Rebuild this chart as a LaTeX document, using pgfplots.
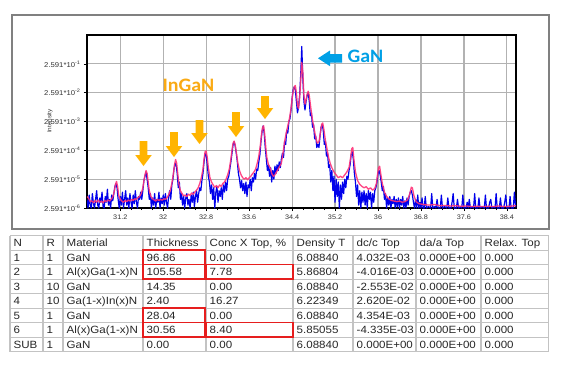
\documentclass[border=0pt]{standalone}
\usepackage{pgfplots}
\pgfplotsset{compat=1.18}
\usepackage{fontspec}
\setmainfont{Liberation Sans}[FakeStretch=1.1]
\newfontfamily\calib{Carlito}[FakeStretch=1.05]
\definecolor{ablue}{RGB}{0,0,235}
\definecolor{apink}{RGB}{255,50,120}
\definecolor{aorange}{RGB}{255,180,0}
\definecolor{torange}{RGB}{250,170,20}
\definecolor{gblue}{RGB}{0,160,230}
\definecolor{tgrid}{RGB}{195,195,195}
\definecolor{rbox}{RGB}{230,30,30}
\newcommand\darrow[3]{\fill[aorange] (#1-3.8,368-#2) -- (#1+3.8,368-#2) -- (#1+3.8,368-#3+11) -- (#1+8.3,368-#3+11) -- (#1,368-#3) -- (#1-8.3,368-#3+11) -- (#1-3.8,368-#3+11) -- cycle;}
\newcommand\trow[9]{%
\node[cell] at (13.5,\ry) {#1};\node[cell] at (46.5,\ry) {#2};\node[cell] at (66.5,\ry) {#3};%
\node[cell] at (146.5,\ry) {#4};\node[cell] at (209.5,\ry) {#5};\node[cell] at (296.5,\ry) {#6};%
\node[cell] at (356.5,\ry) {#7};\node[cell] at (419.5,\ry) {#8};\node[cell] at (484.5,\ry) {#9};}
\begin{document}
\begin{tikzpicture}[x=1pt,y=1pt,cell/.style={anchor=base west,inner sep=0pt,text=black!85,font=\fontsize{10.5}{12}\selectfont}]
\path[fill=white] (0,0) rectangle (566,368);
\draw[color=gray, line width=1.2pt] (12,353) rectangle (549,139);
\begin{axis}[at={(87pt,160pt)}, anchor=south west, scale only axis, width=429pt, height=173pt,
  xmin=30.58, xmax=38.57, ymin=0, ymax=6,
  xtick={31.2,32.0,32.8,33.6,34.4,35.2,36.0,36.8,37.6,38.4},
  xticklabels={31.2,32,32.8,33.6,34.4,35.2,36,36.8,37.6,38.4},
  minor x tick num=3,
  ytick={0,1,2,3,4,5},
  yticklabels={2.591*10\textsuperscript{-6},2.591*10\textsuperscript{-5},2.591*10\textsuperscript{-4},2.591*10\textsuperscript{-3},2.591*10\textsuperscript{-2},2.591*10\textsuperscript{-1}},
  xtick pos=bottom, ytick pos=left, tick align=outside,
  major tick length=3pt, minor tick length=2pt,
  tick style={black, line width=0.6pt},
  xmajorgrids, ymajorgrids,
  grid style={color=black!30, line width=1.2pt, solid},
  xticklabel style={font=\fontsize{6.6}{7}\selectfont, text=black!80},
  yticklabel style={font=\fontsize{7}{8}\selectfont, text=black!80},
  axis line style={black, line width=1.1pt}]
\addplot[ablue, line width=1.2pt, line join=round] coordinates {
(30.58,0.30)(30.60,0.00)(30.62,0.45)(30.64,0.10)(30.66,0.00)(30.68,0.50)(30.70,0.15)(30.72,0.00)(30.74,0.30)(30.76,0.60)(30.78,0.10)(30.80,0.00)(30.82,0.35)(30.84,0.20)(30.86,0.55)(30.88,0.05)(30.90,0.00)(30.92,0.40)(30.94,0.20)(30.96,0.65)(30.98,0.10)(31.00,0.30)(31.02,0.00)(31.04,0.45)(31.06,0.25)(31.08,0.50)(31.10,0.75)(31.12,0.85)(31.14,0.70)(31.16,0.30)(31.18,0.00)(31.20,0.40)(31.22,0.10)(31.24,0.55)(31.26,0.00)(31.28,0.30)(31.30,0.60)(31.32,0.10)(31.34,0.35)(31.36,0.00)(31.38,0.50)(31.40,0.20)(31.42,0.00)(31.44,0.45)(31.46,0.15)(31.48,0.60)(31.50,0.20)(31.52,0.00)(31.54,0.40)(31.56,0.30)(31.58,0.55)(31.60,0.30)(31.62,0.60)(31.64,0.95)(31.66,1.10)(31.68,1.25)(31.70,1.00)(31.72,0.70)(31.74,0.30)(31.76,0.50)(31.78,0.00)(31.80,0.35)(31.82,0.10)(31.84,0.50)(31.86,0.00)(31.88,0.30)(31.90,0.20)(31.92,0.55)(31.94,0.00)(31.96,0.35)(31.98,0.15)(32.00,0.45)(32.02,0.10)(32.04,0.50)(32.06,0.20)(32.08,0.00)(32.10,0.40)(32.12,0.60)(32.14,0.30)(32.16,0.80)(32.18,1.00)(32.20,1.35)(32.22,1.55)(32.24,1.50)(32.26,1.20)(32.28,0.70)(32.30,0.90)(32.32,0.30)(32.34,0.50)(32.36,0.10)(32.38,0.40)(32.40,0.00)(32.42,0.35)(32.44,0.50)(32.46,0.10)(32.48,0.30)(32.50,0.00)(32.52,0.45)(32.54,0.20)(32.56,0.55)(32.58,0.05)(32.60,0.40)(32.62,0.60)(32.64,0.20)(32.66,0.50)(32.68,0.70)(32.70,0.60)(32.72,0.95)(32.74,1.20)(32.76,1.60)(32.78,1.90)(32.80,1.85)(32.82,1.50)(32.84,1.10)(32.86,0.90)(32.88,0.50)(32.90,0.80)(32.92,0.30)(32.94,0.70)(32.96,0.00)(32.98,0.55)(33.00,0.75)(33.02,0.20)(33.04,0.60)(33.06,0.40)(33.08,0.70)(33.10,0.30)(33.12,0.80)(33.14,0.55)(33.16,0.90)(33.18,0.60)(33.20,1.00)(33.22,1.10)(33.24,1.35)(33.26,1.60)(33.28,1.90)(33.30,2.20)(33.32,2.30)(33.34,2.15)(33.36,1.90)(33.38,1.60)(33.40,1.20)(33.42,1.00)(33.44,0.70)(33.46,0.95)(33.48,0.60)(33.50,0.85)(33.52,0.50)(33.54,0.90)(33.56,0.40)(33.58,0.80)(33.60,0.70)(33.62,1.00)(33.64,0.60)(33.66,1.05)(33.68,0.90)(33.70,1.20)(33.72,1.00)(33.74,1.35)(33.76,1.30)(33.78,1.60)(33.80,1.85)(33.82,2.30)(33.84,2.65)(33.86,2.85)(33.88,2.60)(33.90,2.10)(33.92,1.70)(33.94,1.30)(33.96,1.50)(33.98,1.10)(34.00,1.40)(34.02,0.90)(34.04,1.30)(34.06,1.00)(34.08,1.45)(34.10,1.20)(34.12,1.50)(34.14,1.30)(34.16,1.60)(34.18,1.40)(34.20,1.70)(34.22,1.90)(34.24,1.75)(34.26,2.30)(34.28,2.20)(34.30,2.70)(34.32,2.60)(34.34,3.00)(34.36,3.10)(34.38,3.40)(34.40,3.80)(34.42,4.10)(34.44,4.20)(34.46,4.10)(34.48,3.70)(34.50,3.30)(34.52,3.50)(34.54,3.90)(34.56,4.60)(34.58,5.60)(34.60,4.50)(34.62,3.70)(34.64,3.40)(34.66,3.70)(34.68,3.90)(34.70,4.00)(34.72,3.70)(34.74,3.20)(34.76,3.30)(34.78,2.80)(34.80,2.90)(34.82,2.40)(34.84,2.50)(34.86,2.10)(34.88,2.20)(34.90,2.10)(34.92,2.50)(34.94,2.80)(34.96,2.90)(34.98,2.70)(35.00,2.20)(35.02,2.30)(35.04,1.80)(35.06,1.90)(35.08,1.40)(35.10,1.50)(35.12,0.90)(35.14,1.30)(35.16,0.60)(35.18,1.10)(35.20,0.20)(35.22,1.00)(35.24,0.40)(35.26,0.90)(35.28,0.00)(35.30,0.80)(35.32,0.30)(35.34,0.90)(35.36,0.50)(35.38,1.00)(35.40,0.70)(35.42,1.10)(35.44,1.00)(35.46,1.30)(35.48,1.50)(35.50,1.85)(35.52,1.95)(35.54,1.70)(35.56,1.20)(35.58,0.90)(35.60,0.40)(35.62,0.80)(35.64,0.10)(35.66,0.60)(35.68,0.00)(35.70,0.55)(35.72,0.20)(35.74,0.60)(35.76,0.10)(35.78,0.50)(35.80,0.00)(35.82,0.60)(35.84,0.30)(35.86,0.55)(35.88,0.00)(35.90,0.50)(35.92,0.20)(35.94,0.60)(35.96,0.70)(35.98,0.90)(36.00,1.20)(36.02,1.30)(36.04,1.15)(36.06,0.90)(36.08,0.60)(36.10,0.75)(36.12,0.30)(36.14,0.50)(36.16,0.00)(36.18,0.35)(36.20,0.10)(36.22,0.40)(36.24,0.00)(36.26,0.30)(36.28,0.15)(36.30,0.40)(36.32,0.00)(36.34,0.30)(36.36,0.05)(36.38,0.35)(36.40,0.00)(36.42,0.30)(36.44,0.10)(36.46,0.40)(36.48,0.00)(36.50,0.25)(36.52,0.00)(36.54,0.35)(36.56,0.10)(36.58,0.40)(36.60,0.55)(36.62,0.60)(36.64,0.45)(36.66,0.20)(36.68,0.00)(36.70,0.30)(36.72,0.00)(36.74,0.45)(36.76,0.00)(36.78,0.20)(36.80,0.00)(36.82,0.35)(36.84,0.00)
(36.86,0.00)(36.88,0.40)(36.90,0.00)(36.94,0.05)(36.98,0.00)(37.00,0.50)(37.02,0.00)(37.06,0.05)(37.08,0.00)(37.10,0.30)(37.12,0.00)(37.16,0.00)(37.18,0.45)(37.20,0.00)(37.24,0.05)(37.28,0.00)(37.30,0.35)(37.32,0.00)(37.36,0.00)(37.38,0.20)(37.40,0.50)(37.42,0.00)(37.46,0.00)(37.48,0.30)(37.50,0.00)(37.54,0.05)(37.56,0.00)(37.58,0.45)(37.60,0.00)(37.64,0.00)(37.66,0.20)(37.68,0.00)(37.70,0.30)(37.72,0.00)(37.76,0.05)(37.78,0.00)(37.80,0.50)(37.82,0.00)(37.86,0.00)(37.88,0.35)(37.90,0.00)(37.94,0.05)(37.98,0.00)(38.00,0.45)(38.02,0.00)(38.06,0.00)(38.08,0.20)(38.10,0.30)(38.12,0.00)(38.16,0.05)(38.18,0.00)(38.20,0.50)(38.22,0.00)(38.26,0.00)(38.28,0.35)(38.30,0.00)(38.34,0.00)(38.36,0.20)(38.38,0.45)(38.40,0.00)(38.44,0.00)(38.46,0.40)(38.48,0.00)(38.52,0.00)(38.54,0.55)(38.56,0.10)(38.58,0.00)
};
\addplot[apink, line width=1.3pt, opacity=0.9, line join=round] coordinates {
(30.58,0.40)(30.61,0.33)(30.64,0.22)(30.67,0.25)(30.70,0.18)(30.73,0.26)(30.76,0.20)(30.79,0.28)(30.82,0.20)(30.85,0.24)(30.88,0.18)(30.91,0.26)(30.94,0.22)(30.97,0.28)(31.00,0.24)(31.03,0.30)(31.06,0.38)(31.09,0.60)(31.11,0.82)(31.13,0.92)(31.15,0.75)(31.17,0.45)(31.20,0.30)(31.23,0.24)(31.26,0.20)(31.29,0.26)(31.32,0.22)(31.35,0.28)(31.38,0.24)(31.41,0.30)(31.44,0.26)(31.47,0.32)(31.50,0.30)(31.53,0.36)(31.56,0.40)(31.59,0.50)(31.62,0.70)(31.64,0.95)(31.66,1.15)(31.68,1.30)(31.70,1.20)(31.72,0.90)(31.74,0.60)(31.77,0.40)(31.80,0.32)(31.83,0.28)(31.86,0.24)(31.89,0.30)(31.92,0.26)(31.95,0.30)(31.98,0.27)(32.01,0.32)(32.04,0.30)(32.07,0.36)(32.10,0.45)(32.13,0.60)(32.16,0.85)(32.19,1.20)(32.21,1.50)(32.23,1.68)(32.25,1.55)(32.27,1.20)(32.29,0.85)(32.32,0.60)(32.35,0.50)(32.38,0.42)(32.41,0.45)(32.44,0.40)(32.47,0.48)(32.50,0.44)(32.53,0.52)(32.56,0.48)(32.59,0.56)(32.62,0.62)(32.65,0.70)(32.68,0.85)(32.71,1.05)(32.74,1.35)(32.76,1.70)(32.78,1.95)(32.80,1.98)(32.82,1.75)(32.84,1.40)(32.87,1.05)(32.90,0.90)(32.93,0.80)(32.96,0.72)(32.99,0.78)(33.02,0.70)(33.05,0.80)(33.08,0.75)(33.11,0.85)(33.14,0.90)(33.17,1.00)(33.20,1.15)(33.23,1.35)(33.26,1.70)(33.28,2.00)(33.30,2.25)(33.32,2.32)(33.34,2.20)(33.36,1.95)(33.39,1.55)(33.42,1.30)(33.45,1.15)(33.48,1.05)(33.51,1.00)(33.54,1.05)(33.57,0.98)(33.60,1.05)(33.63,1.10)(33.66,1.18)(33.69,1.25)(33.72,1.35)(33.75,1.55)(33.78,1.80)(33.81,2.20)(33.83,2.55)(33.85,2.80)(33.87,2.85)(33.89,2.55)(33.91,2.10)(33.93,1.75)(33.96,1.50)(33.99,1.40)(34.02,1.20)(34.05,1.10)(34.08,1.15)(34.11,1.25)(34.14,1.35)(34.17,1.45)(34.20,1.55)
(34.23,1.90)(34.26,2.30)(34.29,2.60)(34.32,2.85)(34.35,3.10)(34.38,3.45)(34.41,3.95)(34.44,4.20)(34.46,4.25)(34.48,4.00)(34.50,3.55)(34.52,3.45)(34.54,3.80)(34.56,4.40)(34.58,5.05)(34.60,4.70)(34.62,3.90)(34.64,3.60)(34.66,3.75)(34.68,3.95)(34.70,4.05)(34.72,3.90)(34.75,3.45)(34.78,3.05)(34.81,2.75)(34.84,2.45)(34.87,2.25)(34.90,2.30)(34.93,2.65)(34.95,2.90)(34.97,2.95)(34.99,2.75)(35.02,2.35)(35.05,2.05)(35.08,1.75)(35.11,1.55)(35.14,1.40)(35.18,1.25)(35.22,1.15)(35.26,1.05)(35.30,1.10)(35.34,1.05)(35.38,1.15)(35.42,1.25)(35.46,1.40)(35.49,1.75)(35.51,2.05)(35.53,2.10)(35.55,1.70)(35.58,1.25)(35.62,0.95)(35.66,0.82)(35.70,0.75)(35.74,0.70)(35.78,0.74)(35.82,0.65)(35.86,0.70)(35.90,0.62)(35.94,0.68)(35.97,0.85)(35.99,1.15)(36.01,1.40)(36.03,1.45)(36.05,1.20)(36.08,0.85)(36.12,0.55)(36.16,0.40)(36.20,0.32)(36.25,0.26)(36.30,0.24)(36.35,0.22)(36.40,0.24)(36.45,0.20)(36.50,0.22)(36.55,0.28)(36.59,0.48)(36.62,0.72)(36.64,0.70)(36.67,0.42)(36.71,0.22)(36.76,0.15)(36.85,0.12)(36.95,0.10)(37.05,0.12)(37.15,0.08)(37.25,0.09)(37.35,0.07)(37.45,0.08)(37.55,0.06)(37.65,0.07)(37.75,0.05)(37.85,0.06)(37.95,0.05)(38.05,0.06)(38.15,0.05)(38.25,0.07)(38.35,0.05)(38.45,0.06)(38.57,0.08)
};
\end{axis}
% y label
\node[rotate=90, font=\fontsize{5.8}{6}\selectfont, text=black!80] at (50,247) {Intensity};
% annotations
\darrow{143.5}{141}{166}
\darrow{174}{132}{157}
\darrow{199.5}{120}{144}
\darrow{236}{112}{137}
\darrow{265}{96}{119}
\node[font=\calib\bfseries\fontsize{19}{20}\selectfont, text=torange, inner sep=0pt] at (188.5,282.5) {InGaN};
\fill[gblue] (318,368-58.3) -- (330,368-50.5) -- (330,368-54) -- (342,368-54) -- (342,368-62.5) -- (330,368-62.5) -- (330,368-66.2) -- cycle;
\node[font=\calib\bfseries\fontsize{19}{20}\selectfont, text=gblue, inner sep=0pt] at (365.5,311.5) {GaN};
% table grid
\foreach \r in {0,...,8} \draw[tgrid, line width=1pt] (10,368-235.5-14.5*\r) -- (548.7,368-235.5-14.5*\r);
\foreach \c in {10,43,63,143,206,293,353,416,481,548.7} \draw[tgrid, line width=1.5pt] (\c,368-235.5) -- (\c,368-351.5);
% red boxes
\draw[rbox, line width=1.3pt] (143,368-250) rectangle (205,368-264.5);
\draw[rbox, line width=1.3pt] (143,368-264.5) rectangle (205,368-279);
\draw[rbox, line width=1.3pt] (206,368-264.5) rectangle (293,368-279);
\draw[rbox, line width=1.3pt] (143,368-308) rectangle (205,368-322.5);
\draw[rbox, line width=1.3pt] (143,368-322.5) rectangle (205,368-337);
\draw[rbox, line width=1.3pt] (206,368-322.5) rectangle (293,368-337);
% table text
\def\ry{121.5}\trow{N}{R}{Material}{Thickness}{Conc X Top, \%}{Density T}{dc/c Top}{da/a Top}{Relax. Top}
\def\ry{107}\trow{1}{1}{GaN}{96.86}{0.00}{6.08840}{4.032E-03}{0.000E+00}{0.000}
\def\ry{92.5}\trow{2}{1}{Al(x)Ga(1-x)N}{105.58}{7.78}{5.86804}{-4.016E-03}{0.000E+00}{0.000}
\def\ry{78}\trow{3}{10}{GaN}{14.35}{0.00}{6.08840}{-2.553E-02}{0.000E+00}{0.000}
\def\ry{63.5}\trow{4}{10}{Ga(1-x)In(x)N}{2.40}{16.27}{6.22349}{2.620E-02}{0.000E+00}{0.000}
\def\ry{49}\trow{5}{1}{GaN}{28.04}{0.00}{6.08840}{4.354E-03}{0.000E+00}{0.000}
\def\ry{34.5}\trow{6}{1}{Al(x)Ga(1-x)N}{30.56}{8.40}{5.85055}{-4.335E-03}{0.000E+00}{0.000}
\def\ry{20}\trow{SUB}{1}{GaN}{0.00}{0.00}{6.08840}{0.000E+00}{0.000E+00}{0.000}
\end{tikzpicture}
\end{document}
